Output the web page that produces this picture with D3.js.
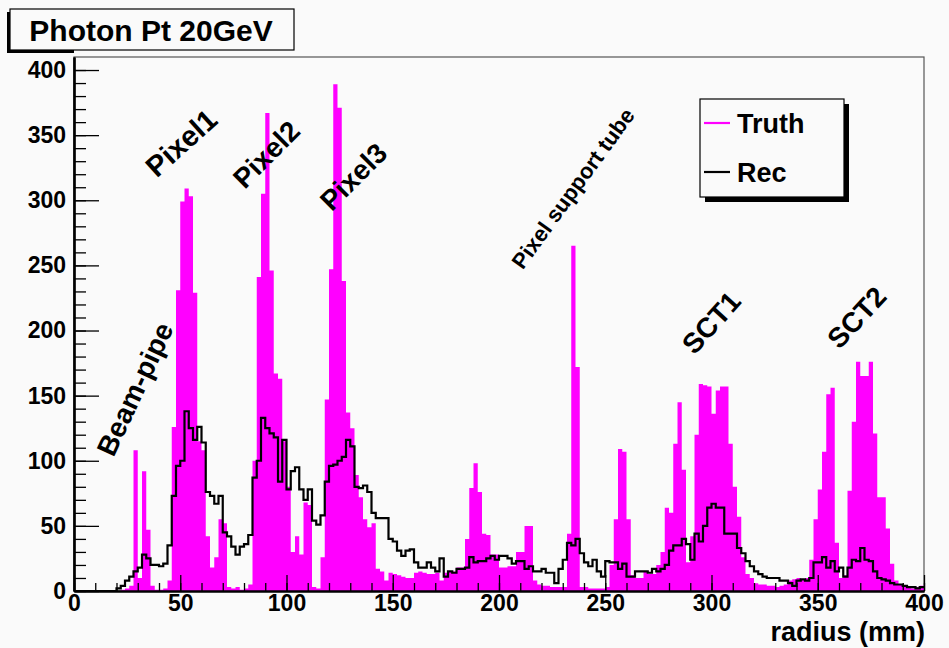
<!DOCTYPE html>
<html>
<head>
<meta charset="utf-8">
<script src="https://cdn.jsdelivr.net/npm/d3@7"></script>
<style>
  html, body { margin: 0; padding: 0; background: #fafafa; }
  svg { display: block; font-family: "Liberation Sans", Arial, Helvetica, sans-serif; font-weight: bold; }
</style>
</head>
<body>
<svg id="canvas" width="949" height="648"></svg>
<script>
// Conversion radius histograms, 200 bins of 2 mm from 0 to 400 mm
const binWidth = 2;
const radiusRange = [0, 400];

// Truth-level conversion vertices per bin
const truth = [
  0, 0, 0, 0, 0, 0, 0, 0, 0, 0,
  0, 1, 2, 4, 108, 10, 92, 47, 4, 1,
  1, 2, 8, 126, 231, 299, 309, 303, 229, 115,
  108, 42, 18, 26, 55, 52, 3, 2, 3, 1,
  2, 5, 100, 241, 305, 367, 246, 167, 163, 115,
  80, 30, 42, 28, 68, 66, 3, 2, 26, 147,
  247, 389, 371, 238, 137, 125, 89, 72, 55, 49,
  52, 17, 15, 8, 14, 13, 12, 11, 10, 10,
  14, 15, 14, 13, 13, 14, 8, 14, 15, 15,
  18, 18, 40, 79, 98, 76, 44, 43, 28, 28,
  18, 18, 19, 19, 30, 30, 50, 50, 8, 5,
  4, 4, 3, 3, 3, 3, 44, 265, 172, 3,
  3, 2, 2, 2, 2, 3, 20, 55, 109, 107,
  55, 12, 10, 10, 15, 13, 13, 20, 30, 64,
  60, 113, 145, 93, 22, 42, 120, 159, 158, 157,
  136, 154, 157, 157, 113, 80, 57, 26, 13, 10,
  6, 5, 5, 4, 4, 3, 4, 5, 8, 9,
  10, 9, 10, 24, 55, 78, 107, 151, 156, 37,
  10, 12, 77, 130, 176, 165, 165, 176, 121, 72,
  72, 48, 21, 8, 5, 3, 3, 2, 3, 4
];

// Reconstructed conversion vertices per bin
const rec = [
  0, 0, 0, 0, 0, 0, 0, 0, 0, 0,
  2, 4, 8, 11, 15, 18, 28, 25, 20, 20,
  19, 21, 35, 73, 96, 100, 138, 125, 116, 126,
  114, 76, 73, 67, 73, 45, 42, 34, 28, 34,
  36, 43, 87, 100, 133, 125, 121, 118, 84, 116,
  78, 92, 95, 78, 70, 78, 54, 51, 58, 84,
  96, 97, 100, 103, 116, 111, 80, 79, 81, 76,
  60, 56, 56, 56, 40, 38, 31, 27, 31, 32,
  22, 18, 18, 22, 18, 15, 25, 11, 15, 14,
  17, 17, 18, 26, 22, 23, 23, 25, 27, 24,
  27, 27, 25, 21, 23, 23, 17, 19, 15, 15,
  17, 14, 14, 6, 17, 24, 37, 35, 40, 29,
  22, 19, 24, 15, 11, 23, 22, 22, 17, 21,
  11, 11, 15, 15, 15, 14, 17, 15, 17, 20,
  31, 35, 35, 40, 36, 24, 44, 38, 50, 64,
  67, 64, 64, 44, 44, 44, 33, 29, 23, 19,
  15, 13, 11, 10, 10, 10, 8, 8, 6, 4,
  8, 9, 8, 10, 22, 22, 26, 18, 23, 15,
  18, 11, 18, 24, 23, 33, 24, 23, 15, 10,
  9, 8, 6, 5, 5, 4, 3, 3, 2, 3
];

const xMajorTicks = [0, 50, 100, 150, 200, 250, 300, 350, 400];
const yMajorTicks = [0, 50, 100, 150, 200, 250, 300, 350, 400];
const xMinorTicks = d3.range(0, 401, 10);
const yMinorTicks = d3.range(0, 401, 10);

const titleText = "Photon Pt 20GeV";
const xAxisTitle = "radius (mm)";
const seriesNames = ["Truth", "Rec"];

// Detector layer labels: position in (radius, entries), rotation in degrees
const layerLabels = [
  { text: "Beam-pipe",          r: 28.8,  v: 155, angle: -65, size: 28 },
  { text: "Pixel1",             r: 50.5,  v: 344, angle: -42, size: 29 },
  { text: "Pixel2",             r: 90.6,  v: 335, angle: -45, size: 28 },
  { text: "Pixel3",             r: 131.6, v: 318, angle: -45, size: 28 },
  { text: "Pixel support tube", r: 234.9, v: 309, angle: -54, size: 22 },
  { text: "SCT1",               r: 300,   v: 206, angle: -48, size: 28 },
  { text: "SCT2",               r: 368.4, v: 210, angle: -47, size: 28 }
];

const truthColor = "#ff00ff";
const recColor = "#000000";

const svg = d3.select("#canvas");
const W = 949, H = 648;
const frame = { left: 74, right: 924, top: 57, bottom: 591 };

const x = d3.scaleLinear().domain(radiusRange).range([frame.left, frame.right]);
const y = d3.scaleLinear().domain([0, 410]).range([frame.bottom, frame.top]);

svg.append("rect").attr("width", W).attr("height", H).attr("fill", "#fafafa");

// frame
svg.append("rect")
  .attr("x", frame.left).attr("y", frame.top)
  .attr("width", frame.right - frame.left).attr("height", frame.bottom - frame.top)
  .attr("fill", "#fafafa").attr("stroke", "#555").attr("stroke-width", 1.2);

// histogram step data: one point per low bin edge, plus the final upper edge
function stepPoints(values) {
  const pts = values.map((v, i) => ({ edge: i * binWidth, v }));
  pts.push({ edge: values.length * binWidth, v: values[values.length - 1] });
  return pts;
}

const plot = svg.append("g");

const area = d3.area()
  .curve(d3.curveStepAfter)
  .x(d => x(d.edge))
  .y0(y(0))
  .y1(d => y(d.v));

plot.append("path")
  .datum(stepPoints(truth))
  .attr("d", area)
  .attr("fill", truthColor)
  .attr("stroke", "none");

const line = d3.line()
  .curve(d3.curveStepAfter)
  .x(d => x(d.edge))
  .y(d => y(d.v));

plot.append("path")
  .datum(stepPoints(rec))
  .attr("d", line)
  .attr("fill", "none")
  .attr("stroke", recColor)
  .attr("stroke-width", 2.2)
  .attr("stroke-linejoin", "miter");

// axes
const xMinor = d3.axisBottom(x).tickValues(xMinorTicks).tickSize(-8).tickSizeOuter(0).tickFormat("");
const xMajor = d3.axisBottom(x).tickValues(xMajorTicks).tickSize(-16).tickSizeOuter(0).tickPadding(4).tickFormat(d3.format("d"));
const yMinor = d3.axisLeft(y).tickValues(yMinorTicks).tickSize(-12).tickSizeOuter(0).tickFormat("");
const yMajor = d3.axisLeft(y).tickValues(yMajorTicks).tickSize(-25).tickSizeOuter(0).tickPadding(8).tickFormat(d3.format("d"));

function styleAxis(g, width) {
  g.selectAll("path.domain").attr("stroke", "#000").attr("stroke-width", width);
  g.selectAll(".tick line").attr("stroke", "#000").attr("stroke-width", 1.3);
  g.selectAll(".tick text")
    .attr("fill", "#000")
    .style("font-family", '"Liberation Sans", Arial, Helvetica, sans-serif')
    .style("font-weight", "bold")
    .style("font-size", "23px");
}

svg.append("g").attr("transform", `translate(0,${frame.bottom})`).call(xMinor).call(g => styleAxis(g, 2));
svg.append("g").attr("transform", `translate(0,${frame.bottom})`).call(xMajor).call(g => styleAxis(g, 2));
svg.append("g").attr("transform", `translate(${frame.left},0)`).call(yMinor).call(g => styleAxis(g, 2.2));
svg.append("g").attr("transform", `translate(${frame.left},0)`).call(yMajor).call(g => styleAxis(g, 2.2));

// x axis title
svg.append("text")
  .attr("x", frame.right + 1).attr("y", 641)
  .attr("text-anchor", "end")
  .style("font-size", "27px")
  .text(xAxisTitle);

// layer labels
svg.append("g").selectAll("text")
  .data(layerLabels)
  .join("text")
  .attr("transform", d => `translate(${x(d.r)},${y(d.v)}) rotate(${d.angle})`)
  .attr("text-anchor", "middle")
  .attr("dominant-baseline", "central")
  .style("font-size", d => d.size + "px")
  .text(d => d.text);

// title pave, shadow along its left and lower-left edges
const tb = { x: 10, y: 9, w: 284, h: 41 };
svg.append("rect").attr("x", tb.x - 3).attr("y", tb.y + 3).attr("width", 3).attr("height", tb.h).attr("fill", "#000");
svg.append("rect").attr("x", tb.x - 3).attr("y", tb.y + tb.h).attr("width", frame.left - tb.x + 3).attr("height", 3).attr("fill", "#000");
svg.append("rect").attr("x", tb.x).attr("y", tb.y).attr("width", tb.w).attr("height", tb.h)
  .attr("fill", "#fafafa").attr("stroke", "#000").attr("stroke-width", 1.2);
svg.append("text")
  .attr("x", tb.x + tb.w / 2 - 1).attr("y", tb.y + 32)
  .attr("text-anchor", "middle")
  .style("font-size", "30px")
  .text(titleText);

// legend with shadow
const lg = { x: 700, y: 99, w: 144, h: 98 };
svg.append("rect").attr("x", lg.x + 5).attr("y", lg.y + 5).attr("width", lg.w).attr("height", lg.h).attr("fill", "#000");
svg.append("rect").attr("x", lg.x).attr("y", lg.y).attr("width", lg.w).attr("height", lg.h)
  .attr("fill", "#fafafa").attr("stroke", "#000").attr("stroke-width", 1.2);

const legendRows = [
  { name: seriesNames[0], color: truthColor, cy: lg.y + 24 },
  { name: seriesNames[1], color: recColor, cy: lg.y + 73 }
];
const lgRow = svg.append("g").selectAll("g").data(legendRows).join("g");
lgRow.append("line")
  .attr("x1", lg.x + 4).attr("x2", lg.x + 30)
  .attr("y1", d => d.cy).attr("y2", d => d.cy)
  .attr("stroke", d => d.color).attr("stroke-width", 2.2);
lgRow.append("text")
  .attr("x", lg.x + 37).attr("y", d => d.cy + 10)
  .style("font-size", "27px")
  .text(d => d.name);
</script>
</body>
</html>
